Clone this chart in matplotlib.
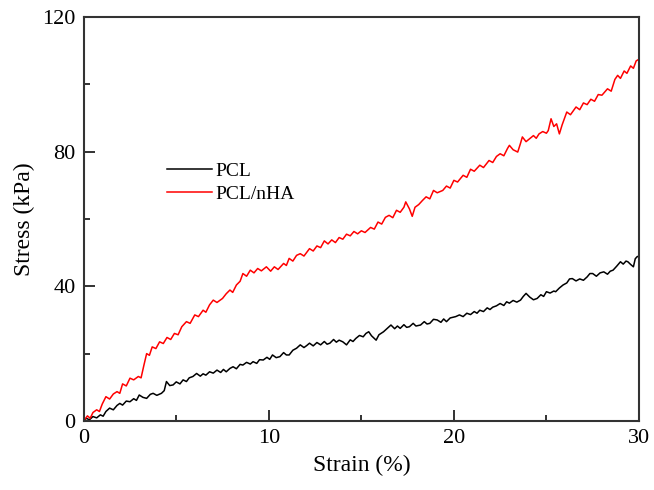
import matplotlib.pyplot as plt
from matplotlib.ticker import MultipleLocator

plt.rcParams['font.family'] = ['Liberation Serif', 'DejaVu Serif']

# PCL/nHA (red)
nha_x = [0, 0.2, 0.35, 0.5, 0.7, 0.85, 1.0, 1.2, 1.4, 1.6, 1.8, 1.95, 2.1, 2.3,
         2.5, 2.7, 2.95, 3.1, 3.25, 3.4, 3.55, 3.7, 3.9, 4.1, 4.3, 4.5, 4.7,
         4.9, 5.1, 5.3, 5.55, 5.75, 6.0, 6.2, 6.45, 6.6, 6.8, 7.0, 7.2, 7.5,
         7.7, 7.9, 8.05, 8.25, 8.45, 8.6, 8.8, 9.0, 9.2, 9.4, 9.6, 9.87, 10.1,
         10.3, 10.5, 10.8, 10.95, 11.1, 11.3, 11.5, 11.7, 11.9, 12.2, 12.4,
         12.6, 12.8, 13.0, 13.2, 13.4, 13.6, 13.8, 14.0, 14.2, 14.4, 14.6,
         14.8, 15.0, 15.2, 15.5, 15.7, 15.9, 16.1, 16.3, 16.5, 16.7, 16.9,
         17.1, 17.3, 17.4, 17.6, 17.75, 17.9, 18.1, 18.3, 18.5, 18.7, 18.9,
         19.1, 19.4, 19.6, 19.8, 20.0, 20.2, 20.5, 20.7, 20.9, 21.1, 21.4,
         21.6, 21.9, 22.1, 22.3, 22.5, 22.7, 22.9, 23.0, 23.2, 23.45, 23.6,
         23.7, 23.9, 24.1, 24.3, 24.45, 24.6, 24.8, 25.0, 25.1, 25.25, 25.4,
         25.55, 25.7, 25.85, 26.1, 26.3, 26.6, 26.8, 27.0, 27.2, 27.4, 27.6,
         27.8, 28.0, 28.3, 28.5, 28.7, 28.85, 29.0, 29.2, 29.35, 29.55, 29.7,
         29.85, 30.0]
nha_y = [0, 1.5, 0.8, 2.5, 3.3, 2.8, 5.0, 7.2, 6.5, 8.0, 8.7, 8.2, 11.0, 10.4,
         12.7, 12.2, 13.2, 12.8, 16.5, 20.0, 19.5, 22.0, 21.5, 23.5, 23.0,
         24.8, 24.2, 26.0, 25.6, 28.0, 29.5, 29.0, 31.5, 31.0, 32.9, 32.3,
         34.5, 35.9, 35.2, 36.4, 37.8, 38.9, 38.2, 40.4, 41.5, 43.8, 43.0,
         44.8, 44.0, 45.3, 44.6, 45.8, 44.5, 45.8, 45.0, 46.8, 46.2, 48.3,
         47.5, 49.2, 49.7, 49.0, 51.2, 50.5, 52.0, 51.5, 53.5, 52.6, 53.8,
         53.0, 54.5, 54.0, 55.5, 55.0, 56.3, 55.6, 56.5, 56.0, 57.5, 57.0,
         59.1, 58.5, 60.5, 61.1, 60.4, 62.6, 62.0, 63.5, 65.1, 63.0, 60.8,
         63.5, 64.3, 65.5, 66.6, 66.0, 68.5, 67.8, 68.5, 69.8, 69.2, 71.5,
         71.0, 73.0, 72.4, 74.8, 74.2, 76.0, 75.3, 77.4, 76.8, 78.6, 79.4,
         78.8, 81.0, 81.9, 80.6, 79.9, 82.5, 84.4, 83.0, 83.9, 84.8, 84.0,
         85.3, 86.0, 85.5, 86.3, 89.8, 87.5, 88.3, 85.3, 88.0, 91.8, 91.0,
         93.3, 92.5, 94.5, 94.0, 95.6, 95.0, 97.0, 96.8, 98.7, 98.0, 101.5,
         102.7, 101.8, 104.0, 103.3, 105.5, 104.8, 107.0, 107.5]

# PCL (black)
pcl_x = [0, 0.15, 0.3, 0.5, 0.7, 0.9, 1.05, 1.2, 1.4, 1.6, 1.8, 1.95, 2.1,
         2.3, 2.5, 2.7, 2.85, 3.0, 3.2, 3.4, 3.6, 3.75, 3.95, 4.2, 4.35, 4.47,
         4.65, 4.83, 5.0, 5.2, 5.37, 5.55, 5.7, 5.9, 6.1, 6.3, 6.45, 6.6, 6.8,
         7.0, 7.2, 7.4, 7.55, 7.7, 7.9, 8.07, 8.25, 8.45, 8.6, 8.8, 9.0, 9.15,
         9.35, 9.5, 9.7, 9.9, 10.05, 10.2, 10.4, 10.6, 10.8, 10.95, 11.1, 11.3,
         11.5, 11.7, 11.9, 12.05, 12.2, 12.4, 12.6, 12.8, 13.0, 13.15, 13.3,
         13.5, 13.65, 13.8, 14.0, 14.2, 14.4, 14.55, 14.7, 14.9, 15.1, 15.25,
         15.4, 15.55, 15.8, 15.95, 16.2, 16.4, 16.6, 16.8, 16.95, 17.1, 17.3,
         17.45, 17.6, 17.8, 17.95, 18.2, 18.4, 18.55, 18.7, 18.9, 19.1, 19.3,
         19.45, 19.6, 19.8, 20.1, 20.3, 20.5, 20.7, 20.9, 21.1, 21.25, 21.4,
         21.6, 21.8, 21.95, 22.1, 22.3, 22.5, 22.7, 22.85, 23.0, 23.2, 23.4,
         23.6, 23.75, 23.9, 24.1, 24.3, 24.5, 24.7, 24.85, 25.0, 25.2, 25.4,
         25.5, 25.7, 25.9, 26.1, 26.25, 26.4, 26.6, 26.8, 27.0, 27.2, 27.35,
         27.5, 27.7, 27.9, 28.1, 28.3, 28.45, 28.6, 28.8, 29.0, 29.15, 29.3,
         29.4, 29.55, 29.7, 29.8, 29.9, 30.0]
pcl_y = [0, 0.8, 0.3, 1.3, 0.9, 1.8, 1.4, 2.8, 3.8, 3.3, 4.6, 5.2, 4.7, 5.9,
         5.7, 6.6, 6.1, 7.7, 7.0, 6.7, 7.9, 8.2, 7.6, 8.2, 9.0, 11.7, 10.5,
         10.7, 11.6, 11.0, 12.2, 11.7, 12.8, 13.2, 14.1, 13.3, 14.0, 13.6,
         14.6, 14.2, 15.1, 14.4, 15.3, 14.6, 15.6, 16.1, 15.5, 16.8, 16.6,
         17.4, 16.9, 17.6, 17.1, 18.2, 18.1, 18.9, 18.3, 19.6, 18.8, 19.1,
         20.3, 19.6, 19.6, 21.0, 21.6, 22.6, 21.8, 22.4, 23.1, 22.3, 23.3,
         22.6, 23.6, 22.8, 23.1, 24.2, 23.4, 24.0, 23.5, 22.6, 24.1, 23.6,
         24.5, 25.4, 25.0, 26.0, 26.5, 25.3, 24.0, 25.6, 26.5, 27.5, 28.5,
         27.4, 28.2, 27.5, 28.6, 27.8, 28.0, 29.0, 28.2, 28.5, 29.5, 28.8,
         29.0, 30.2, 30.0, 29.3, 30.3, 29.5, 30.6, 31.0, 31.5, 31.0, 32.0,
         31.6, 32.5, 32.0, 32.9, 32.5, 33.6, 33.1, 33.8, 34.2, 34.9, 34.3,
         35.4, 35.0, 35.8, 35.3, 35.9, 37.0, 37.9, 36.8, 36.0, 36.4, 37.5,
         37.0, 38.4, 38.0, 38.6, 38.4, 39.5, 40.4, 41.0, 42.2, 42.3, 41.6,
         42.2, 41.8, 42.8, 43.8, 43.8, 43.0, 44.0, 44.3, 43.6, 44.5, 44.8,
         46.0, 47.3, 46.6, 47.5, 47.3, 46.5, 45.8, 48.2, 48.8, 49.0]

fig = plt.figure(figsize=(6.54, 4.90), dpi=100)
ax = fig.add_axes([0.128, 0.141, 0.849, 0.824])

ax.plot(pcl_x, pcl_y, color='black', lw=1.1, label='PCL')
ax.plot(nha_x, nha_y, color='red', lw=1.1, label='PCL/nHA')

ax.set_xlim(0, 30)
ax.set_ylim(0, 120)
ax.xaxis.set_major_locator(MultipleLocator(10))
ax.xaxis.set_minor_locator(MultipleLocator(5))
ax.yaxis.set_major_locator(MultipleLocator(40))
ax.yaxis.set_minor_locator(MultipleLocator(20))
ax.tick_params(which='both', direction='in', top=False, right=False,
               labelsize=16, width=1.3, color='#222222')
ax.tick_params(which='major', length=8, pad=6)
ax.tick_params(which='minor', length=4)
for s in ax.spines.values():
    s.set_linewidth(1.5)
    s.set_color('#333333')

ax.set_xlabel('Strain (%)', fontsize=17, labelpad=5)
ax.set_ylabel('Stress (kPa)', fontsize=17, labelpad=5)

ax.legend(loc='upper left', bbox_to_anchor=(0.15, 0.64), frameon=False,
          fontsize=14, handlelength=2.3, handletextpad=0.2,
          labelspacing=0.25, borderpad=0, borderaxespad=0)

fig.savefig('out.png', dpi=100)
